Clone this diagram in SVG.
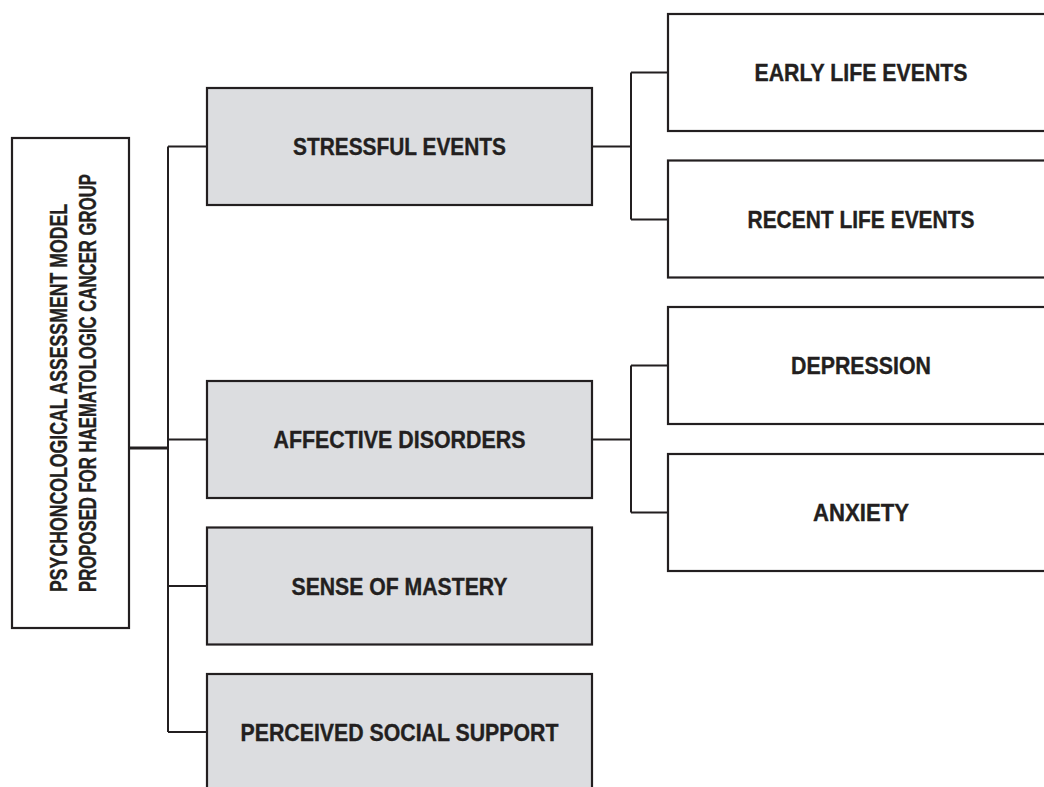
<svg xmlns="http://www.w3.org/2000/svg" width="1044" height="787" viewBox="0 0 1044 787">
<style>
.box{fill:#ffffff;stroke:#231f20;stroke-width:2.2}
.gray{fill:#dcdde0;stroke:#231f20;stroke-width:2.2}
.lbl{font-family:"Liberation Sans",Arial,sans-serif;font-weight:bold;font-size:23px;fill:#231f20;stroke:#231f20;stroke-width:0.35;text-anchor:middle}
.rot{font-family:"Liberation Sans",Arial,sans-serif;font-weight:bold;font-size:23px;fill:#231f20;stroke:#231f20;stroke-width:0.35}
.con{fill:none;stroke:#231f20;stroke-width:2}
</style>
<rect width="1044" height="787" fill="#ffffff"/>
<g id="connectors">
<path class="con" d="M168,146.5 V732 M168,146.5 H207 M168,439.5 H207 M168,586 H207 M168,732 H207"/>
<path class="con" style="stroke-width:3" d="M129,448 H168"/>
<path class="con" d="M592,146.5 H631 M631,72.5 V219.5 M631,72.5 H668 M631,219.5 H668"/>
<path class="con" d="M592,439.5 H631 M631,365.5 V512.5 M631,365.5 H668 M631,512.5 H668"/>
</g>
<g id="root">
<rect class="box" x="12" y="138" width="117" height="490"/>
<text class="rot" transform="translate(67,592) rotate(-90)" textLength="388" lengthAdjust="spacingAndGlyphs">PSYCHONCOLOGICAL ASSESSMENT MODEL</text>
<text class="rot" transform="translate(96,592) rotate(-90)" textLength="418" lengthAdjust="spacingAndGlyphs">PROPOSED FOR HAEMATOLOGIC CANCER GROUP</text>
</g>
<g id="stressful">
<rect class="gray" x="207" y="88" width="385" height="117"/>
<text class="lbl" x="399.5" y="154.5" textLength="213" lengthAdjust="spacingAndGlyphs">STRESSFUL EVENTS</text>
</g>
<g id="affective">
<rect class="gray" x="207" y="381" width="385" height="117"/>
<text class="lbl" x="399.5" y="448" textLength="252" lengthAdjust="spacingAndGlyphs">AFFECTIVE DISORDERS</text>
</g>
<g id="mastery">
<rect class="gray" x="207" y="527.5" width="385" height="117"/>
<text class="lbl" x="399.5" y="594.5" textLength="216" lengthAdjust="spacingAndGlyphs">SENSE OF MASTERY</text>
</g>
<g id="support">
<rect class="gray" x="207" y="674" width="385" height="117"/>
<text class="lbl" x="399.5" y="740.5" textLength="318" lengthAdjust="spacingAndGlyphs">PERCEIVED SOCIAL SUPPORT</text>
</g>
<g id="early">
<rect class="box" x="668" y="14" width="385" height="117"/>
<text class="lbl" x="861" y="81" textLength="213" lengthAdjust="spacingAndGlyphs">EARLY LIFE EVENTS</text>
</g>
<g id="recent">
<rect class="box" x="668" y="160.5" width="385" height="117"/>
<text class="lbl" x="861" y="228" textLength="227" lengthAdjust="spacingAndGlyphs">RECENT LIFE EVENTS</text>
</g>
<g id="depression">
<rect class="box" x="668" y="307" width="385" height="117"/>
<text class="lbl" x="861" y="374" textLength="140" lengthAdjust="spacingAndGlyphs">DEPRESSION</text>
</g>
<g id="anxiety">
<rect class="box" x="668" y="454" width="385" height="117"/>
<text class="lbl" x="861" y="521" textLength="96" lengthAdjust="spacingAndGlyphs">ANXIETY</text>
</g>
</svg>
